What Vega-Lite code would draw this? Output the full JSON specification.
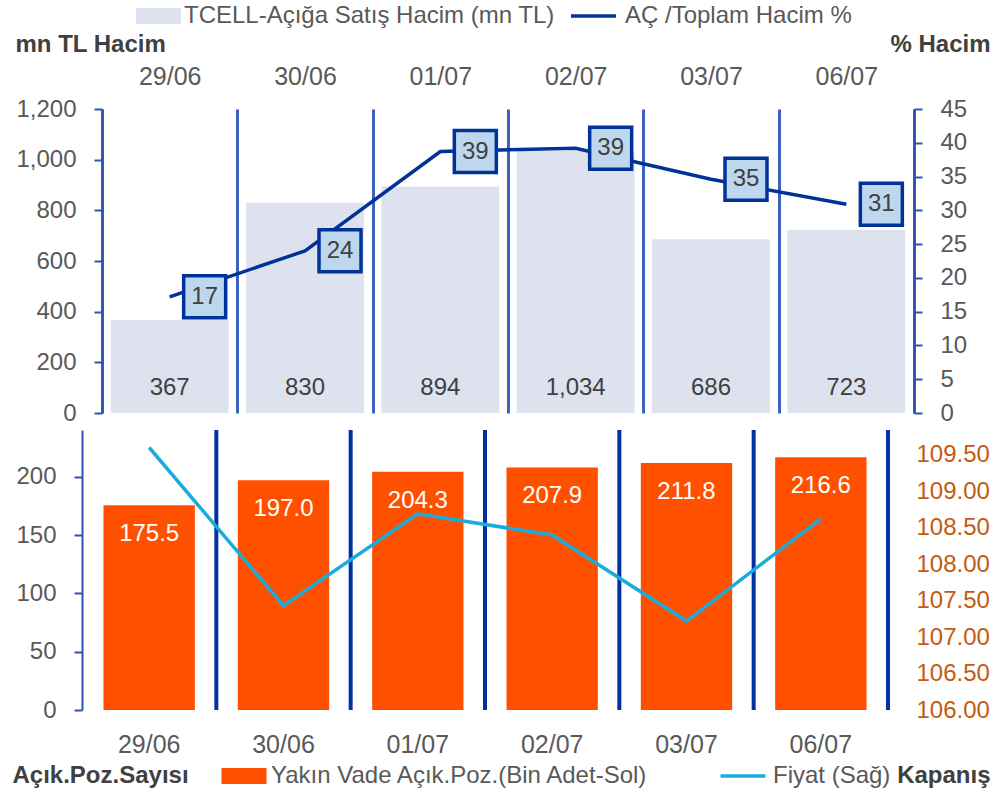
{
  "$schema": "https://vega.github.io/schema/vega-lite/v6.json",
  "background": "white",
  "padding": {"left": 12, "top": 4, "right": 3, "bottom": 5},
  "bounds": "flush",
  "spacing": 17,
  "config": {"font": "Liberation Sans", "view": {"stroke": null}},
  "resolve": {"scale": {"fill": "independent", "stroke": "independent", "x": "independent"}},
  "vconcat": [
    {
      "width": 812,
      "height": 304,
      "data": {"values": [
        {"d": "29/06", "vol": 367, "pct": 17.2},
        {"d": "30/06", "vol": 830, "pct": 24.0},
        {"d": "01/07", "vol": 894, "pct": 38.7},
        {"d": "02/07", "vol": 1034, "pct": 39.2},
        {"d": "03/07", "vol": 686, "pct": 34.6},
        {"d": "06/07", "vol": 723, "pct": 30.9}
      ]},
      "encoding": {
        "x": {"field": "d", "type": "nominal", "sort": null,
          "scale": {"paddingInner": 0, "paddingOuter": 0},
          "axis": {"orient": "top", "title": null, "domain": false, "ticks": false, "labelAngle": 0,
            "labelFontSize": 25, "labelColor": "#595959", "labelPadding": 20,
            "grid": true, "tickBand": "extent", "gridColor": "#3D62BF", "gridWidth": 3}}
      },
      "layer": [
        {"layer": [
          {"mark": {"type": "bar", "width": {"band": 0.87}},
           "encoding": {
             "y": {"field": "vol", "type": "quantitative", "scale": {"domain": [0, 1200]},
               "axis": {"orient": "left", "values": [0, 200, 400, 600, 800, 1000, 1200], "format": ",.0f", "labelOverlap": false,
                 "grid": false, "domainColor": "#2E54B0", "domainWidth": 2, "tickColor": "#2E54B0", "tickWidth": 2, "tickSize": 8,
                 "labelFontSize": 24, "labelColor": "#595959", "labelPadding": 18,
                 "title": "mn TL Hacim", "titleAngle": 0, "titleAlign": "left", "titleBaseline": "middle",
                 "titleX": -87, "titleY": -65, "titleFontSize": 24, "titleFontWeight": "bold", "titleColor": "#404040"}},
             "fill": {"datum": "TCELL-Açığa Satış Hacim (mn TL)", "scale": {"range": ["#DEE2EE"]},
               "legend": {"orient": "none", "legendX": 44.5, "legendY": -105, "title": null,
                 "symbolType": "M-2.8125,-1L2.8125,-1L2.8125,1L-2.8125,1Z", "symbolSize": 256, "symbolStrokeWidth": 0,
                 "labelOffset": 13.5, "labelFontSize": 24, "labelColor": "#595959", "labelLimit": 600}}
           }},
          {"mark": {"type": "text", "dy": -25, "fontSize": 24, "color": "#404040"},
           "encoding": {
             "y": {"datum": 0, "type": "quantitative"},
             "text": {"field": "vol", "type": "quantitative", "format": ",.0f"}
           }}
        ]},
        {"encoding": {
           "y": {"field": "pct", "type": "quantitative", "scale": {"domain": [0, 45]},
             "axis": {"orient": "right", "values": [0, 5, 10, 15, 20, 25, 30, 35, 40, 45], "tickCount": 10, "labelOverlap": false,
               "grid": false, "domainColor": "#2E54B0", "domainWidth": 2, "tickColor": "#2E54B0", "tickWidth": 2, "tickSize": 8,
               "labelFontSize": 24, "labelColor": "#595959", "labelPadding": 18,
               "title": "% Hacim", "titleAngle": 0, "titleAlign": "right", "titleBaseline": "middle",
               "titleX": 76, "titleY": -65, "titleFontSize": 24, "titleFontWeight": "bold", "titleColor": "#404040"}}
         },
         "layer": [
          {"mark": {"type": "line", "strokeWidth": 3.5},
           "encoding": {
             "stroke": {"datum": "AÇ /Toplam Hacim %", "scale": {"range": ["#003399"]},
               "legend": {"orient": "none", "legendX": 479.5, "legendY": -105, "title": null,
                 "symbolType": "M-2.8125,0L2.8125,0", "symbolSize": 256, "symbolStrokeWidth": 3.5,
                 "labelOffset": 19.5, "labelFontSize": 24, "labelColor": "#595959", "labelLimit": 600}}
           }},
          {"mark": {"type": "point", "shape": "square", "size": 1764, "filled": true, "fill": "#BDD7EE", "stroke": "#003399",
             "strokeWidth": 3.5, "opacity": 1, "fillOpacity": 1, "strokeOpacity": 1, "xOffset": 35}},
          {"mark": {"type": "text", "xOffset": 35, "fontSize": 24, "color": "#404040"},
           "encoding": {
             "text": {"field": "pct", "type": "quantitative", "format": ".0f"}
           }}
        ]}
      ],
      "resolve": {"scale": {"y": "independent"}}
    },
    {
      "width": 786,
      "height": 280,
      "data": {"values": [
        {"d": "29/06", "oi": 175.5, "px": 109.6},
        {"d": "30/06", "oi": 197.0, "px": 107.43},
        {"d": "01/07", "oi": 204.3, "px": 108.69},
        {"d": "02/07", "oi": 207.9, "px": 108.4},
        {"d": "03/07", "oi": 211.8, "px": 107.22},
        {"d": "06/07", "oi": 216.6, "px": 108.62}
      ]},
      "encoding": {
        "x": {"field": "d", "type": "nominal", "sort": null,
          "scale": {"range": [-20, 786], "paddingInner": 0, "paddingOuter": 0},
          "axis": {"orient": "bottom", "title": null, "domain": false, "ticks": false, "labelAngle": 0,
            "labelFontSize": 25, "labelColor": "#595959", "labelPadding": 22, "grid": false}}
      },
      "layer": [
        {"layer": [
          {"mark": {"type": "rule", "color": "#0033A0", "strokeWidth": 4},
           "encoding": {
             "x": {"field": "d", "type": "nominal", "sort": null, "bandPosition": 1}
           }},
          {"mark": {"type": "bar", "width": {"band": 0.68}},
           "encoding": {
             "y": {"field": "oi", "type": "quantitative", "scale": {"domain": [0, 240]},
               "axis": {"orient": "left", "offset": 20, "values": [0, 50, 100, 150, 200], "labelOverlap": false,
                 "grid": false, "domainColor": "#2E54B0", "domainWidth": 2, "tickColor": "#2E54B0", "tickWidth": 2, "tickSize": 8,
                 "labelFontSize": 24, "labelColor": "#595959", "labelPadding": 18,
                 "title": "Açık.Poz.Sayısı", "titleAngle": 0, "titleAlign": "left", "titleBaseline": "middle",
                 "titleX": -70, "titleY": 345, "titleFontSize": 24, "titleFontWeight": "bold", "titleColor": "#404040"}},
             "fill": {"datum": "Yakın Vade Açık.Poz.(Bin Adet-Sol)", "scale": {"range": ["#FF5000"]},
               "legend": {"orient": "none", "legendX": 130, "legendY": 334, "title": null,
                 "symbolType": "M-2.8125,-1L2.8125,-1L2.8125,1L-2.8125,1Z", "symbolSize": 256, "symbolStrokeWidth": 0,
                 "labelOffset": 15, "labelFontSize": 24, "labelColor": "#595959", "labelLimit": 600}}
           }},
          {"mark": {"type": "text", "dy": 29, "fontSize": 24, "color": "white"},
           "encoding": {
             "y": {"field": "oi", "type": "quantitative"},
             "text": {"field": "oi", "type": "quantitative", "format": ".1f"}
           }}
        ]},
        {"mark": {"type": "line", "strokeWidth": 3.5},
         "encoding": {
           "y": {"field": "px", "type": "quantitative", "scale": {"domain": [106, 109.84]},
             "axis": {"orient": "right", "values": [106, 106.5, 107, 107.5, 108, 108.5, 109, 109.5], "format": ".2f", "labelOverlap": false,
               "grid": false, "domain": false, "ticks": false,
               "labelFontSize": 24, "labelColor": "#C55A11", "labelPadding": 28,
               "title": "Kapanış", "titleAngle": 0, "titleAlign": "right", "titleBaseline": "middle",
               "titleX": 102, "titleY": 345, "titleFontSize": 24, "titleFontWeight": "bold", "titleColor": "#404040"}},
           "stroke": {"datum": "Fiyat (Sağ)", "scale": {"range": ["#1AACDC"]},
             "legend": {"orient": "none", "legendX": 629, "legendY": 334, "title": null,
               "symbolType": "M-2.8125,0L2.8125,0", "symbolSize": 256, "symbolStrokeWidth": 3.5,
               "labelOffset": 18, "labelFontSize": 24, "labelColor": "#595959", "labelLimit": 600}}
         }}
      ],
      "resolve": {"scale": {"y": "independent"}}
    }
  ]
}
